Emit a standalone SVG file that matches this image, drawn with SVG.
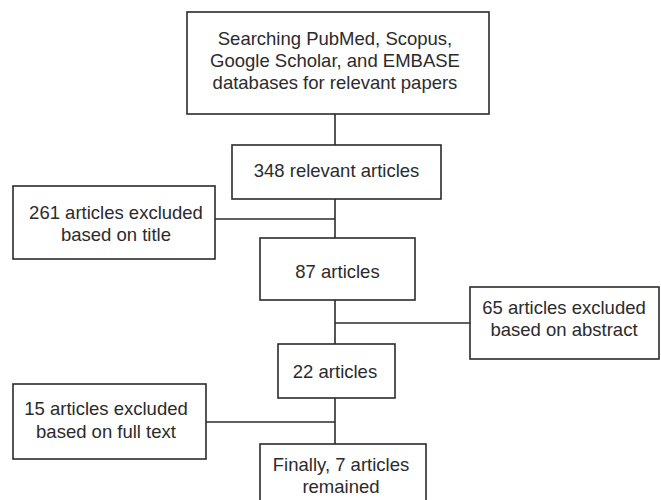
<svg xmlns="http://www.w3.org/2000/svg" width="661" height="500" viewBox="0 0 661 500">
<style>
.box{fill:#fff;stroke:#2b2b2b;stroke-width:1.6}
.t{font-family:"Liberation Sans",Arial,sans-serif;font-size:18.5px;fill:#2b2b2b;text-anchor:middle}
.c{stroke:#2b2b2b;stroke-width:1.6;fill:none}
</style>
<rect width="661" height="500" fill="#fff"/>
<g id="connectors">
<line class="c" x1="335" y1="114" x2="335" y2="145"/>
<line class="c" x1="335" y1="199" x2="335" y2="238"/>
<line class="c" x1="215" y1="219" x2="335" y2="219"/>
<line class="c" x1="335" y1="300" x2="335" y2="344"/>
<line class="c" x1="335" y1="323" x2="470" y2="323"/>
<line class="c" x1="335" y1="398" x2="335" y2="444"/>
<line class="c" x1="206" y1="422" x2="335" y2="422"/>
</g>
<g id="search">
<rect class="box" x="187" y="12" width="302" height="102"/>
<text class="t" x="335" y="44.5">Searching PubMed, Scopus,</text>
<text class="t" x="335" y="66.5">Google Scholar, and EMBASE</text>
<text class="t" x="335" y="88.5">databases for relevant papers</text>
</g>
<g id="n348">
<rect class="box" x="232" y="145" width="209" height="54"/>
<text class="t" x="336.5" y="177">348 relevant articles</text>
</g>
<g id="ex261">
<rect class="box" x="13" y="186" width="202" height="73"/>
<text class="t" x="116" y="218.5">261 articles excluded</text>
<text class="t" x="116" y="240.5">based on title</text>
</g>
<g id="n87">
<rect class="box" x="260" y="238" width="155" height="62"/>
<text class="t" x="337.5" y="278">87 articles</text>
</g>
<g id="ex65">
<rect class="box" x="470" y="287" width="189" height="72"/>
<text class="t" x="564" y="314">65 articles excluded</text>
<text class="t" x="564" y="336">based on abstract</text>
</g>
<g id="n22">
<rect class="box" x="278" y="344" width="117" height="54"/>
<text class="t" x="335" y="378">22 articles</text>
</g>
<g id="ex15">
<rect class="box" x="13" y="384" width="193" height="75"/>
<text class="t" x="106" y="415">15 articles excluded</text>
<text class="t" x="106" y="438">based on full text</text>
</g>
<g id="final">
<rect class="box" x="260" y="444" width="166" height="62"/>
<text class="t" x="341" y="471">Finally, 7 articles</text>
<text class="t" x="341" y="493">remained</text>
</g>
</svg>
